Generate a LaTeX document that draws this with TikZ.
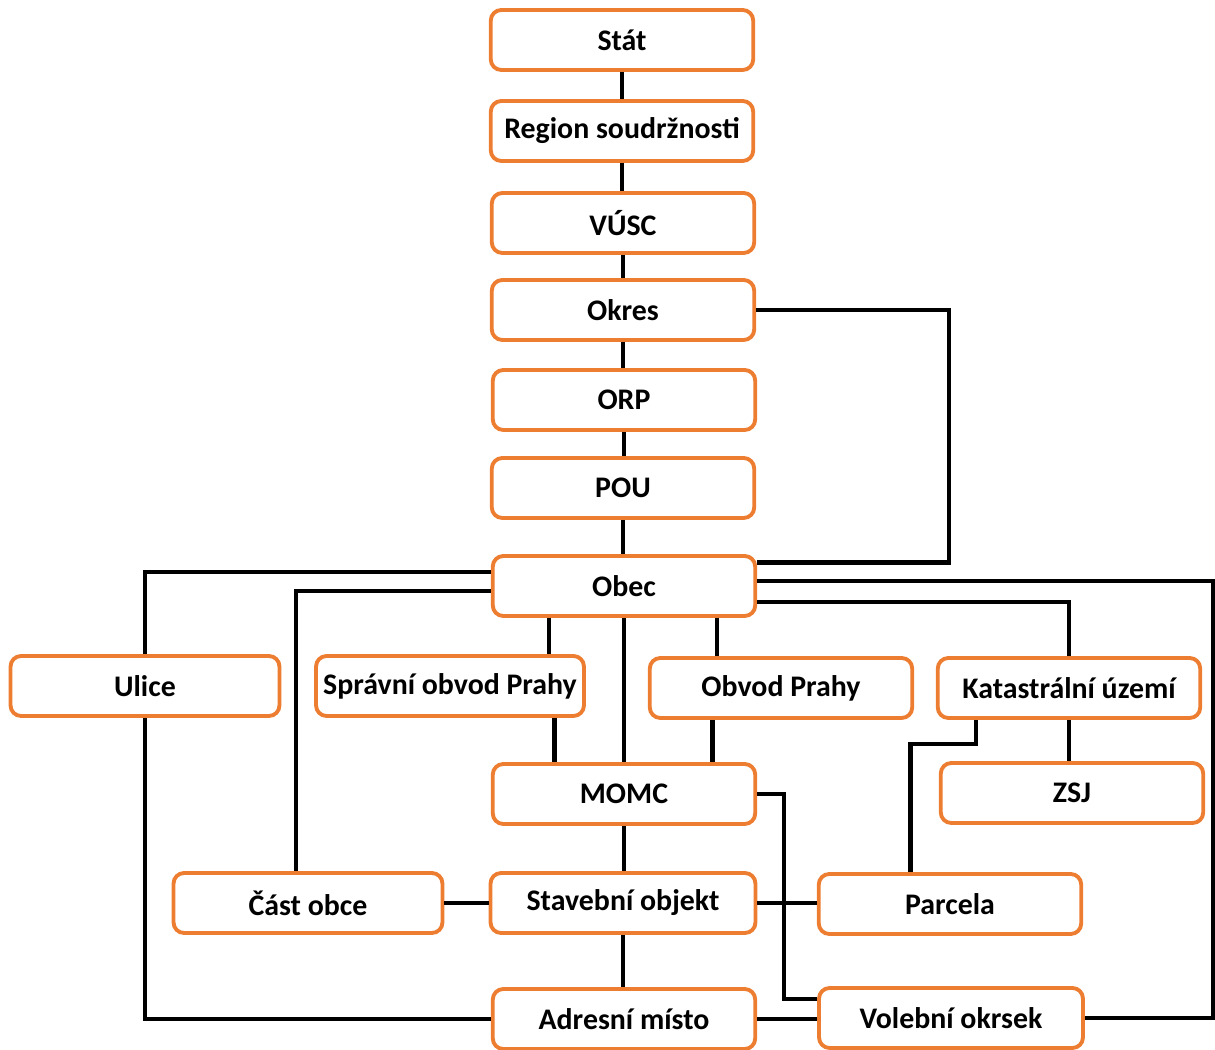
\documentclass[tikz,border=0pt]{standalone}
\usepackage{fontspec}
\setmainfont{Carlito}
\definecolor{boxorange}{HTML}{ED7D31}
\begin{document}
\begin{tikzpicture}[x=0.02cm, y=-0.02cm,
    box/.style={draw=boxorange, line width=2.2pt, rounded corners=6pt, fill=white,
        minimum width=5.25cm, minimum height=1.2cm, inner sep=2pt,
        font=\bfseries\fontsize{17}{20}\selectfont},
    link/.style={line width=2.4pt}]
    \useasboundingbox (0,0) rectangle (1215,1050);
    \node [box] (stat)   at (622,40)  {Stát};
    \node [box] (region) at (622,131) {Region soudržnosti};
    \node [box] (vusc)   at (623,223) {VÚSC};
    \node [box] (okres)  at (623,310) {Okres};
    \node [box] (orp)    at (624,400) {ORP};
    \node [box] (pou)    at (623,488) {POU};
    \node [box] (obec)   at (624,586) {Obec};
    \node [box, minimum width=5.38cm] (ulice) at (145,686) {Ulice};
    \node [box, minimum width=5.36cm] (spp)   at (450,686) {Správní obvod Prahy};
    \node [box] (op)     at (781,688) {Obvod Prahy};
    \node [box] (ku)     at (1069,688) {Katastrální území};
    \node [box] (momc)   at (624,794) {MOMC};
    \node [box] (zsj)    at (1072,793) {ZSJ};
    \node [box, minimum width=5.38cm] (cast) at (308,903) {Část obce};
    \node [box, minimum width=5.3cm]  (so)   at (623,903) {Stavební objekt};
    \node [box] (parcela) at (950,904) {Parcela};
    \node [box] (am)     at (624,1019) {Adresní místo};
    \node [box, minimum width=5.28cm] (vo) at (951,1018) {Volební okrsek};
    % hierarchy
    \draw [link] (stat.south) -- (stat.south |- region.north);
    \draw [link] (region.south) -- (region.south |- vusc.north);
    \draw [link] (vusc.south) -- (vusc.south |- okres.north);
    \draw [link] (okres.south) -- (okres.south |- orp.north);
    \draw [link] (orp.south) -- (orp.south |- pou.north);
    \draw [link] (pou.south) -- (pou.south |- obec.north);
    \draw [link] (okres.east) -- ++(193,0) |- (obec.10);
    % from Obec
    \draw [link] (obec.174) -| (ulice.north);
    \draw [link] (obec.182) -| (cast.110);
    \draw [link] (obec.203.5) -- (obec.203.5 |- spp.north);
    \draw [link] (obec.south) -- (obec.south |- momc.north);
    \draw [link] (obec.-19) -- (obec.-19 |- op.north);
    \draw [link] (obec.2) -- ++(456,0) |- (vo.east);
    \draw [link] (obec.-7) -| (ku.north);
    \draw [link] (spp.-17) -- (spp.-17 |- momc.north);
    \draw [link] (op.205) -- (op.205 |- momc.north);
    \draw [link] (ku.south) -- (ku.south |- zsj.north);
    \draw [link] (ku.199) -- ++(0,24) -| (parcela.141);
    % lower part
    \draw [link] (ulice.south) |- (am.west);
    \draw [link] (momc.east) -- ++(27,0) |- (vo.172);
    \draw [link] (momc.south) -- (momc.south |- so.north);
    \draw [link] (cast.east) -- (cast.east -| so.west);
    \draw [link] (so.east) -- (so.east -| parcela.west);
    \draw [link] (so.south) -- (so.south |- am.north);
    \draw [link] (am.east) -- (am.east -| vo.west);
\end{tikzpicture}
\end{document}
